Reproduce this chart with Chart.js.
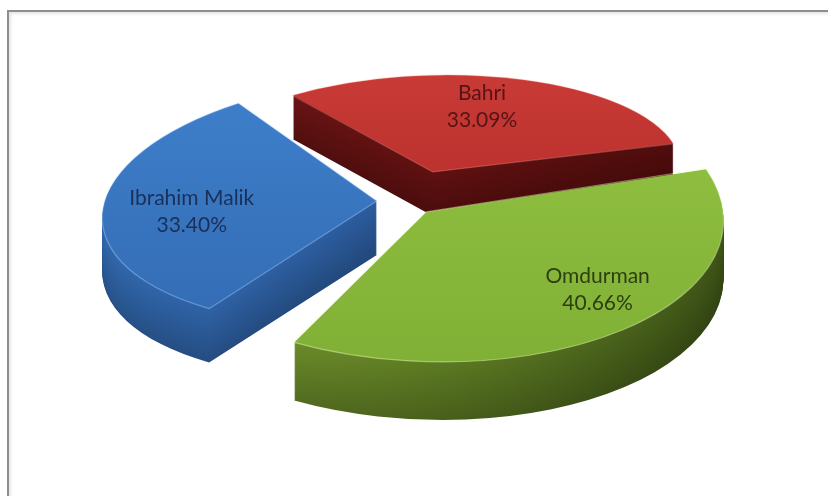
<!DOCTYPE html>
<html><head><meta charset="utf-8">
<script src="https://cdn.jsdelivr.net/npm/chart.js@4.4.1/dist/chart.umd.min.js"></script>
<style>
html,body{margin:0;padding:0;background:#fff;}
#wrap{position:relative;width:828px;height:496px;overflow:hidden;background:#fff;}
#frame{position:absolute;left:7px;top:10px;width:900px;height:600px;border-left:2px solid #8e8e8e;border-top:2px solid #8e8e8e;box-shadow:inset 2px 2px 3px rgba(0,0,0,0.10);}
canvas{position:absolute;left:0;top:0;}
</style></head>
<body><div id="wrap"><div id="frame"></div><canvas id="c" width="828" height="496"></canvas></div>
<script>
// ---- data ----
const categories = ['Bahri', 'Omdurman', 'Ibrahim Malik'];
const shares = [33.09, 40.66, 33.40];
const valueLabels = shares.map(v => v.toFixed(2) + '%');

// ---- styles (per slice, in data order) ----
const topTop    = ['#c83a36', '#96c545', '#3f80cc'];
const topBottom = ['#b12a27', '#80b035', '#336cb4'];
const wallLeft  = [[112, 22, 22], [124, 158, 50], [50, 106, 176]];
const wallMid   = [[96, 16, 16],  [92, 122, 34],  [44, 92, 158]];
const wallRight = [[80, 12, 12],  [60, 82, 22],   [38, 82, 142]];
const edgeColors = ['rgba(255,170,160,0.30)', 'rgba(230,255,190,0.45)', 'rgba(180,215,255,0.40)'];
const textColors = ['#561414', '#2c3f10', '#18305a'];
const explode = [124, 42, 43];
// perspective approximation per slice: half-width, half-height, shear, wall depth
const persA = [247, 297, 272];
const persB = [97, 150, 124];
const persK = [-0.15, 0.11, -0.30];
const persD = [44, 58, 54];
const labelFrac = [0.693, 0.756, 0.674];
const labelTurn = [-4.3, -8, -3.6];

const R = 100;
const view = { cx: 406, cy: 200 };

function rgb(c, s) { return 'rgb(' + c.map(v => Math.round(v * s)).join(',') + ')'; }

function geom(el, i) {
  const mid = (el.startAngle + el.endAngle) / 2;
  const o = (el.options.offset || 0) / 4;
  const circ = el.endAngle - el.startAngle;
  const fix = 1 - Math.sin(Math.min(Math.PI, circ));
  const rEff = el.outerRadius + o * fix;
  return { mid, o, rEff, z: Math.sin(mid), sx: persA[i] / rEff, sy: persB[i] / rEff, k: persK[i], depth: persD[i] };
}
function applyT(ctx, el, g) {
  ctx.translate(view.cx, view.cy);
  ctx.transform(1, 0, g.k, 1, 0, 0);
  ctx.scale(g.sx, g.sy);
  ctx.translate(-el.x, -el.y);
}

const pie3d = {
  id: 'pie3d',
  beforeDatasetsDraw(chart) {
    const ctx = chart.ctx;
    const meta = chart.getDatasetMeta(0);
    const order = meta.data.map((el, i) => ({ el, i, g: geom(el, i) })).sort((p, q) => p.g.z - q.g.z);
    order.forEach(({ el, i, g }) => {
      const D = Math.round(g.depth);
      for (let d = D; d >= 1; d--) {
        const s = 1 - 0.22 * (d / D);
        ctx.save();
        ctx.translate(0, d);
        applyT(ctx, el, g);
        const gr = ctx.createLinearGradient(el.x - R * 1.1, 0, el.x + R * 1.1, 0);
        gr.addColorStop(0, rgb(wallLeft[i], s));
        gr.addColorStop(0.5, rgb(wallMid[i], s));
        gr.addColorStop(1, rgb(wallRight[i], s));
        const c = Object.create(el);
        c.options = Object.assign({}, el.options, { backgroundColor: gr, borderWidth: 0 });
        c.draw(ctx);
        ctx.restore();
      }
      ctx.save();
      applyT(ctx, el, g);
      const tg = ctx.createLinearGradient(0, el.y - R, 0, el.y + R);
      tg.addColorStop(0, topTop[i]);
      tg.addColorStop(1, topBottom[i]);
      const c = Object.create(el);
      c.options = Object.assign({}, el.options, { backgroundColor: tg, borderWidth: 0 });
      c.draw(ctx);
      // subtle light bevel along the top-face outline
      const ox = el.x + Math.cos(g.mid) * g.o, oy = el.y + Math.sin(g.mid) * g.o;
      ctx.beginPath();
      ctx.moveTo(ox, oy);
      ctx.arc(ox, oy, g.rEff, el.startAngle, el.endAngle);
      ctx.closePath();
      ctx.setTransform(1, 0, 0, 1, 0, 0);
      ctx.strokeStyle = edgeColors[i];
      ctx.lineWidth = 1.2;
      ctx.lineJoin = 'round';
      ctx.stroke();
      ctx.restore();
    });
    // labels
    ctx.save();
    ctx.font = '21px Lato';
    ctx.textAlign = 'center';
    ctx.textBaseline = 'middle';
    meta.data.forEach((el, i) => {
      const g = geom(el, i);
      const la = g.mid + labelTurn[i] * Math.PI / 180;
      const mx = Math.cos(g.mid) * g.o + Math.cos(la) * labelFrac[i] * g.rEff;
      const my = Math.sin(g.mid) * g.o + Math.sin(la) * labelFrac[i] * g.rEff;
      const x = view.cx + g.sx * mx + g.k * g.sy * my;
      const y = view.cy + g.sy * my;
      ctx.fillStyle = textColors[i];
      ctx.fillText(categories[i], x, y - 13.5);
      ctx.fillText(valueLabels[i], x, y + 13.5);
    });
    ctx.restore();
    return false;
  }
};

new Chart(document.getElementById('c'), {
  type: 'pie',
  data: {
    labels: categories,
    datasets: [{ data: shares, backgroundColor: topTop, borderWidth: 0, offset: explode }]
  },
  options: {
    responsive: false,
    animation: false,
    radius: R,
    rotation: -38,
    layout: { padding: 0 },
    plugins: { legend: { display: false }, tooltip: { enabled: false } }
  },
  plugins: [pie3d]
});
</script>
</body></html>
